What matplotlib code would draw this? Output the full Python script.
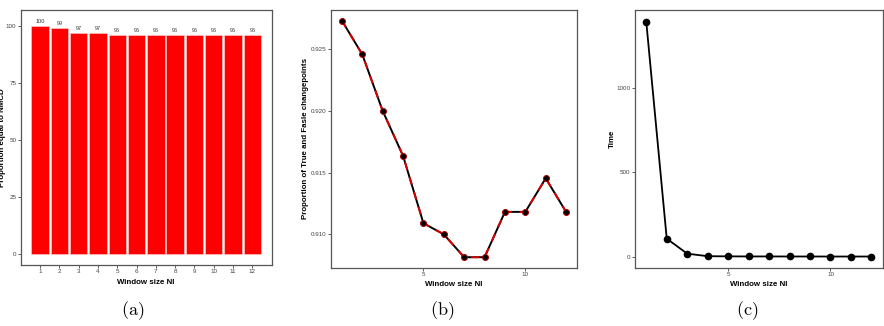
import matplotlib
matplotlib.use("Agg")
import matplotlib.pyplot as plt
import numpy as np

plt.rcParams['font.family'] = ['Liberation Sans', 'DejaVu Sans']
plt.rcParams['mathtext.fontset'] = 'cm'

window = np.arange(1, 13)
prop_nmcd = [100, 99, 97, 97, 96, 96, 96, 96, 96, 96, 96, 96]
prop_cp = [0.92731, 0.92457, 0.92000, 0.91636, 0.91090, 0.91000,
           0.90815, 0.90815, 0.91182, 0.91182, 0.91454, 0.91182]
time_vals = [1395, 107, 18, 3, 2, 1.5, 1.5, 1.2, 1.2, 1.0, 1.0, 1.0]

W, H = 884, 326
fig = plt.figure(figsize=(W / 100, H / 100), dpi=100)

def box(l, r, t, b):
    return [l / W, 1 - b / H, (r - l) / W, (b - t) / H]

edge = '#555555'
tick_fs = 4.5
lab_fs = 5.7

def style(ax):
    for s in ax.spines.values():
        s.set_color(edge)
        s.set_linewidth(0.9)
    ax.tick_params(axis='both', labelsize=tick_fs, colors='#444444', length=2, width=0.6, pad=1.2)
    for lab in ax.get_xticklabels() + ax.get_yticklabels():
        lab.set_color('#444444')

# (a)
ax1 = fig.add_axes(box(20.7, 271.7, 10, 265))
bars = ax1.bar(window, prop_nmcd, width=0.9, color='#ff0000', edgecolor='#ffd0d0', linewidth=0.4)
for x, v in zip(window, prop_nmcd):
    ax1.text(x, v + 0.8, str(v), ha='center', va='bottom', fontsize=4, color='#333333')
ax1.set_xlim(0.0, 13.0)
ax1.set_ylim(-4.7, 106.9)
ax1.set_xticks(window)
ax1.set_yticks([0, 25, 50, 75, 100])
ax1.set_xlabel('Window size Nl', fontsize=lab_fs, fontweight='bold')
ax1.set_ylabel('Proportion equal to NMCD', fontsize=lab_fs, fontweight='bold')
ax1.yaxis.set_label_coords(-0.057, 0.5)
ax1.xaxis.set_label_coords(0.5, -0.055)
style(ax1)

# (b)
ax2 = fig.add_axes(box(330.7, 577.3, 10, 267.7))
ax2.plot(window, prop_cp, color='black', linewidth=1.4, zorder=2)
ax2.plot(window, prop_cp, color='#dd0000', linewidth=1.4, linestyle=(0, (4, 4)), zorder=3)
ax2.plot(window, prop_cp, linestyle='none', marker='o', markersize=4.3,
         markerfacecolor='black', markeredgecolor='#aa0000', markeredgewidth=0.7, zorder=4)
ax2.set_xlim(0.45, 12.55)
ax2.set_ylim(0.9073, 0.92817)
ax2.set_xticks([5, 10])
ax2.set_yticks([0.910, 0.915, 0.920, 0.925])
ax2.set_yticklabels(['0.910', '0.915', '0.920', '0.925'])
ax2.set_xlabel('Window size Nl', fontsize=lab_fs, fontweight='bold')
ax2.set_ylabel('Proportion of True and Fasle changepoints', fontsize=lab_fs, fontweight='bold')
ax2.yaxis.set_label_coords(-0.086, 0.5)
ax2.xaxis.set_label_coords(0.5, -0.05)
style(ax2)

# (c)
ax3 = fig.add_axes(box(635, 882.7, 10, 267.7))
ax3.plot(window, time_vals, color='black', linewidth=1.3, marker='o', markersize=4.5)
ax3.set_xlim(0.45, 12.55)
ax3.set_ylim(-65.3, 1464)
ax3.set_xticks([5, 10])
ax3.set_yticks([0, 500, 1000])
ax3.set_xlabel('Window size Nl', fontsize=lab_fs, fontweight='bold')
ax3.set_ylabel('Time', fontsize=lab_fs, fontweight='bold')
ax3.yaxis.set_label_coords(-0.077, 0.5)
ax3.xaxis.set_label_coords(0.5, -0.05)
style(ax3)

for x, lab in [(133, '(a)'), (441.7, '(b)'), (746.7, '(c)')]:
    fig.text(x / W, 1 - 311 / H, r'$\mathrm{' + lab + '}$', ha='center', va='center', fontsize=13)

fig.savefig('out.png', dpi=100)
